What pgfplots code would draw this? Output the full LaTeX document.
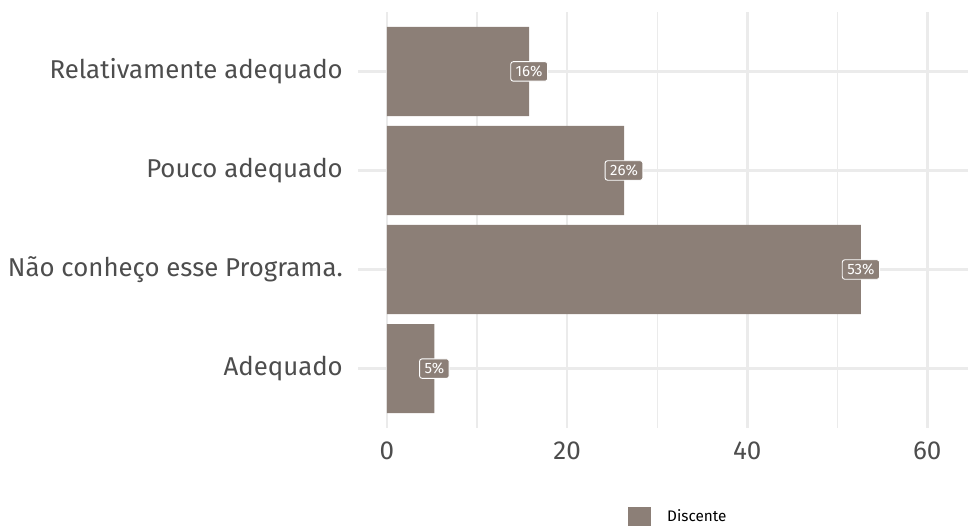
\documentclass[border=0pt]{standalone}
\usepackage{fontspec}
\setmainfont{Fira Sans}
\usepackage{pgfplots}
\pgfplotsset{compat=1.18}
\definecolor{barc}{HTML}{8C7F77}
\definecolor{gridc}{HTML}{EBEBEB}
\definecolor{txt}{HTML}{4D4D4D}
\begin{document}
\begin{tikzpicture}[x=1pt,y=1pt]
\useasboundingbox (0,0) rectangle (968,531);
\begin{axis}[
  at={(358pt,103pt)}, anchor=south west,
  scale only axis, width=610pt, height=416pt,
  xmin=-3.22, xmax=64.52, ymin=0.4, ymax=4.6,
  axis line style={draw=none},
  xtick={0,20,40,60}, minor xtick={10,30,50},
  ytick={1,2,3,4},
  yticklabels={Adequado, Não conheço esse Programa., Pouco adequado, Relativamente adequado},
  xmajorgrids, xminorgrids, ymajorgrids,
  major grid style={gridc, line width=2.7pt},
  minor grid style={gridc, line width=1.3pt},
  major tick length=0pt, minor tick length=0pt,
  tick style={draw=none},
  /pgf/number format/assume math mode=true,
  yticklabel style={font=\fontsize{25.8}{28}\selectfont, text=txt, anchor=east, inner sep=0pt, xshift=-15pt},
  xticklabel style={font=\fontsize{26}{28}\selectfont, text=txt, anchor=north, inner sep=0pt, yshift=-14pt},
  xbar, bar width=0.9,
  point meta=explicit symbolic,
  nodes near coords={\pgfplotspointmeta\%},
  nodes near coords style={anchor=center, xshift=0pt, fill=barc, draw=white, line width=0.9pt, rounded corners=2.5pt, text=white, font=\fontsize{15}{16}\selectfont, inner xsep=5pt, inner ysep=2pt, minimum height=19.5pt},
  legend style={at={(axis description cs:0.4426,-0.2127)}, anchor=west, draw=none, fill=none, inner sep=0pt,
     nodes={inner sep=0pt, anchor=west, font=\fontsize{15.3}{17}\selectfont, text=black},
     /tikz/every odd column/.append style={column sep=16pt}},
  legend image code/.code={\fill[barc] (0pt,-9.5pt) rectangle (23pt,9.5pt);},
]
\addplot[fill=barc, draw=none] coordinates {
  (5.26,1) [5]
  (52.63,2) [53]
  (26.32,3) [26]
  (15.79,4) [16]
};
\addlegendentry{Discente}
\end{axis}
\end{tikzpicture}
\end{document}
